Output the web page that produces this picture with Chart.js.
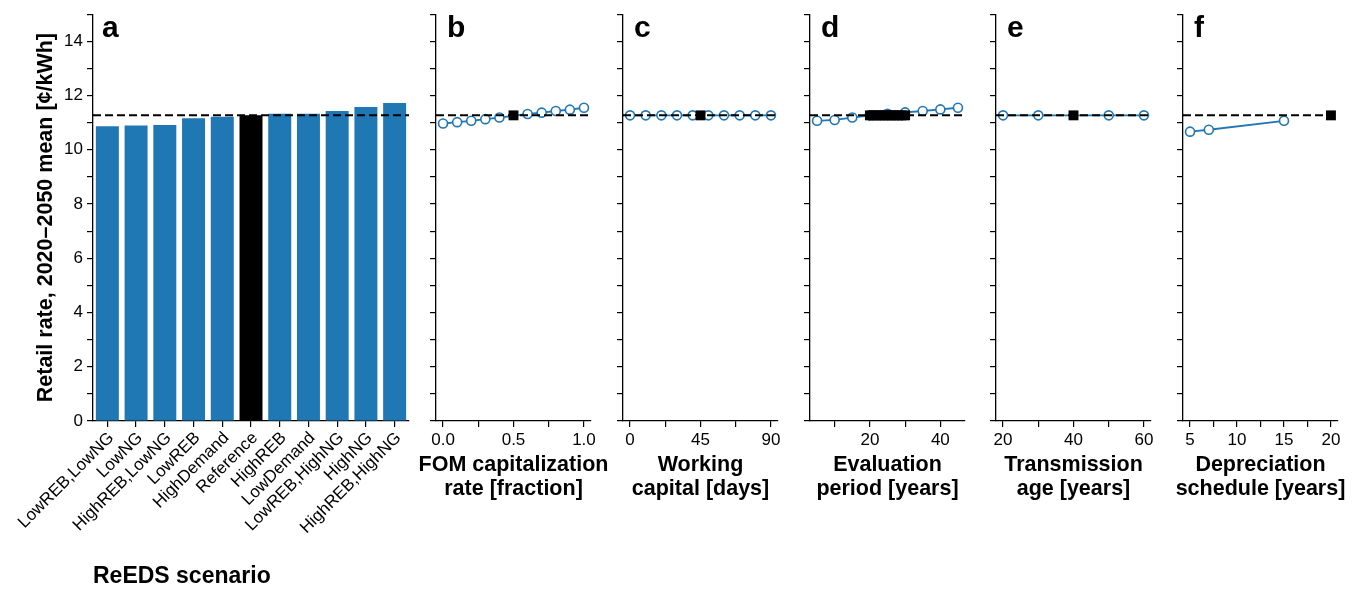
<!DOCTYPE html>
<html>
<head>
<meta charset="utf-8">
<script src="https://cdn.jsdelivr.net/npm/chart.js@4/dist/chart.umd.min.js"></script>
<style>
  body { margin: 0; background: #fff; }
  #wrap { position: relative; width: 1359px; height: 590px; overflow: hidden; }
  #wrap canvas { position: absolute; top: 0; }
</style>
</head>
<body>
<div id="wrap"></div>
<script>
// ---- data ----
const scenarios = ["LowREB,LowNG", "LowNG", "HighREB,LowNG", "LowREB", "HighDemand", "Reference",
                   "HighREB", "LowDemand", "LowREB,HighNG", "HighNG", "HighREB,HighNG"];
const scenarioRates = [10.87, 10.90, 10.91, 11.16, 11.22, 11.27, 11.33, 11.33, 11.43, 11.58, 11.73];
const referenceRate = 11.27;

const fomX = [0, 0.1, 0.2, 0.3, 0.4, 0.6, 0.7, 0.8, 0.9, 1.0];
const fomRate = [10.97, 11.02, 11.07, 11.13, 11.19, 11.32, 11.37, 11.43, 11.48, 11.55];
const fomRef = [0.5];
const fomTicks = [0, 0.5, 1.0];

const wcX = [0, 10, 20, 30, 40, 50, 60, 70, 80, 90];
const wcRate = [11.27, 11.27, 11.27, 11.27, 11.27, 11.27, 11.27, 11.27, 11.27, 11.27];
const wcRef = [45];
const wcTicks = [0, 45, 90];

const evalX = [5, 10, 15, 20, 25, 30, 35, 40, 45];
const evalRate = [11.07, 11.10, 11.19, 11.27, 11.33, 11.38, 11.43, 11.49, 11.55];
const evalRef = [20, 21, 22, 23, 24, 25, 26, 27, 28, 29, 30];
const evalTicks = [20, 40];

const transX = [20, 30, 50, 60];
const transRate = [11.27, 11.27, 11.27, 11.27];
const transRef = [40];
const transTicks = [20, 40, 60];

const deprX = [5, 7, 15];
const deprRate = [10.67, 10.74, 11.07];
const deprRef = [20];
const deprTicks = [5, 10, 15, 20];

// ---- styling ----
const blue = "#1f77b4";
const family = '"Liberation Sans", Arial, Helvetica, sans-serif';
Chart.defaults.font.family = family;
Chart.defaults.color = "#000";

const gridOpts = { drawOnChartArea: false, color: "#000", lineWidth: 1.2, tickLength: 6 };
const borderOpts = { display: true, color: "#000", width: 1.3 };

// panel letter and two-line x title (drawn unsquashed, wider than the axes)
const panelText = {
  id: "panelText",
  afterDraw(chart, args, opts) {
    const { ctx, chartArea } = chart;
    ctx.save();
    ctx.fillStyle = "#000";
    ctx.font = "bold 30px " + family;
    ctx.textAlign = "left";
    ctx.textBaseline = "alphabetic";
    ctx.fillText(opts.letter, chartArea.left + opts.dx, chartArea.top + 23);
    if (opts.xTitle) {
      ctx.font = "bold 21.5px " + family;
      ctx.textAlign = "center";
      ctx.textBaseline = "middle";
      const cx = (chartArea.left + chartArea.right) / 2;
      opts.xTitle.forEach((line, i) => ctx.fillText(line, cx, chartArea.bottom + 44 + i * 24.5));
    }
    ctx.restore();
  }
};

function yScale(showLabels) {
  return {
    min: 0, max: 15,
    ticks: {
      stepSize: 1, autoSkip: false, padding: 4, font: { size: 17 },
      callback: v => (showLabels && v % 2 === 0 && v <= 14) ? String(v) : ""
    },
    grid: gridOpts,
    border: borderOpts,
    title: showLabels ? {
      display: true, text: "Retail rate, 2020\u20132050 mean [\u00a2/kWh]",
      font: { size: 21.5, weight: "bold" }, padding: { top: 33, bottom: 0 }
    } : { display: false },
    afterFit: s => { s.width = showLabels ? 93 : 10; }
  };
}

function addCanvas(id, left, width) {
  const c = document.createElement("canvas");
  c.id = id;
  c.width = width;
  c.height = 590;
  c.style.left = left + "px";
  document.getElementById("wrap").appendChild(c);
  return c;
}

// ---- panel a ----
new Chart(addCanvas("pa", 0, 415), {
  type: "bar",
  data: {
    labels: scenarios,
    datasets: [
      {
        type: "line", xAxisID: "xl",
        data: [{ x: -0.5, y: referenceRate }, { x: scenarios.length - 0.5, y: referenceRate }],
        borderColor: "#000", borderWidth: 2, borderDash: [8, 4], pointRadius: 0, order: 0
      },
      {
        data: scenarioRates,
        backgroundColor: scenarios.map(s => s === "Reference" ? "#000" : blue),
        grouped: false, barPercentage: 0.8, categoryPercentage: 1, order: 1
      }
    ]
  },
  options: {
    responsive: false, animation: false,
    layout: { padding: { top: 10, right: 6, left: 0, bottom: 0 } },
    plugins: { legend: { display: false }, tooltip: { enabled: false }, panelText: { letter: "a", dx: 9 } },
    scales: {
      x: {
        type: "category", offset: true,
        ticks: { minRotation: 45, maxRotation: 45, autoSkip: false, padding: 1, labelOffset: 4, font: { size: 17 } },
        grid: Object.assign({}, gridOpts, { offset: false }),
        border: borderOpts,
        title: { display: true, text: "ReEDS scenario", align: "start", font: { size: 23, weight: "bold" }, padding: { top: 0, bottom: 0 } },
        afterFit: s => { s.height = 169; }
      },
      xl: { type: "linear", display: false, offset: false, min: -0.5, max: scenarios.length - 0.5 },
      y: yScale(true)
    }
  },
  plugins: [panelText]
});

// ---- panels b-f ----
const panels = [
  { id: "pb", letter: "b", left: 436, xs: fomX, ys: fomRate, ref: fomRef, step: 0.25, labels: fomTicks, dec: 1, title: ["FOM capitalization", "rate [fraction]"] },
  { id: "pc", letter: "c", left: 623, xs: wcX, ys: wcRate, ref: wcRef, step: 22.5, labels: wcTicks, dec: 0, title: ["Working", "capital [days]"] },
  { id: "pd", letter: "d", left: 810, xs: evalX, ys: evalRate, ref: evalRef, step: 10, labels: evalTicks, dec: 0, title: ["Evaluation", "period [years]"] },
  { id: "pe", letter: "e", left: 996, xs: transX, ys: transRate, ref: transRef, step: 10, labels: transTicks, dec: 0, title: ["Transmission", "age [years]"] },
  { id: "pf", letter: "f", left: 1183, xs: deprX, ys: deprRate, ref: deprRef, step: 2.5, labels: deprTicks, dec: 0, title: ["Depreciation", "schedule [years]"] }
];

const panelWidth = 155.5;
const sideRoom = 40;

panels.forEach(p => {
  const allX = p.xs.concat(p.ref);
  const lo = Math.min(...allX), hi = Math.max(...allX);
  const m = 0.05 * (hi - lo);
  new Chart(addCanvas(p.id, p.left - sideRoom, sideRoom * 2 + panelWidth), {
    type: "line",
    data: {
      datasets: [
        {
          data: [{ x: lo - m, y: referenceRate }, { x: hi + m, y: referenceRate }],
          borderColor: "#000", borderWidth: 2, borderDash: [8, 4], pointRadius: 0, order: 0
        },
        {
          data: p.ref.map(x => ({ x: x, y: referenceRate })),
          showLine: false, pointStyle: "rect", pointRadius: 7,
          pointBackgroundColor: "#000", pointBorderColor: "#000", pointBorderWidth: 0, clip: false, order: 1
        },
        {
          data: p.xs.map((x, i) => ({ x: x, y: p.ys[i] })),
          borderColor: blue, borderWidth: 1.8,
          pointRadius: 4.5, pointBackgroundColor: "#fff", pointBorderColor: blue, pointBorderWidth: 1.6,
          clip: false, order: 2
        }
      ]
    },
    options: {
      responsive: false, animation: false,
      layout: { padding: { top: 10, left: sideRoom - 10, bottom: 0, right: sideRoom } },
      plugins: { legend: { display: false }, tooltip: { enabled: false }, panelText: { letter: p.letter, dx: 11, xTitle: p.title } },
      scales: {
        x: {
          type: "linear", min: lo - m, max: hi + m,
          ticks: {
            stepSize: p.step, includeBounds: false, autoSkip: false, maxRotation: 0, minRotation: 0,
            padding: 3, font: { size: 17 },
            callback: v => p.labels.some(t => Math.abs(t - v) < 1e-9) ? v.toFixed(p.dec) : ""
          },
          grid: gridOpts,
          border: borderOpts,
          afterFit: s => { s.height = 169; }
        },
        y: yScale(false)
      }
    },
    plugins: [panelText]
  });
});
</script>
</body>
</html>
